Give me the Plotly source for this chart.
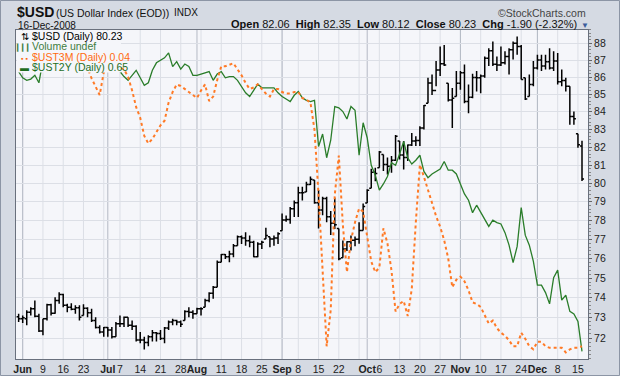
import pandas as pd
import plotly.graph_objects as go

# ---------------- data ----------------
HOLIDAYS = ["2008-07-04", "2008-09-01", "2008-11-27"]
trade_days = [d for d in pd.bdate_range("2008-05-30", "2008-12-16")
              if d.strftime("%Y-%m-%d") not in HOLIDAYS]
day_index = {d.strftime("%Y-%m-%d"): i for i, d in enumerate(trade_days)}
x_pos = list(range(len(trade_days)))

usd_open = [73.05, 72.95, 72.95, 73.28, 73.45, 73.08, 72.35, 72.95, 73.65, 73.23,
            73.87, 74.17, 73.62, 73.53, 73.42, 73.50, 73.12, 73.48, 73.25, 72.87,
            72.52, 72.30, 72.52, 72.39, 72.06, 72.71, 72.71, 73.03, 72.63, 72.58,
            71.91, 71.91, 71.78, 72.06, 72.26, 72.22, 71.98, 72.50, 72.79, 72.87,
            72.79, 72.87, 73.31, 73.28, 73.20, 73.45, 73.53, 73.87, 74.23, 74.53,
            75.81, 76.21, 76.10, 76.24, 76.67, 77.14, 77.07, 76.93, 76.85, 76.10,
            76.76, 77.02, 77.14, 77.02, 77.07, 77.46, 78.02, 78.05, 78.63, 78.95,
            79.48, 79.53, 79.94, 80.18, 78.95, 78.56, 79.17, 78.20, 77.85, 77.58,
            76.04, 76.50, 76.88, 76.96, 77.01, 77.47, 78.94, 79.73, 80.61, 80.85,
            81.59, 81.03, 80.94, 81.26, 82.33, 81.56, 81.41, 82.11, 82.33, 82.37,
            83.07, 84.48, 85.65, 85.22, 86.41, 86.78, 85.64, 84.67, 84.87, 85.64,
            86.25, 84.58, 84.82, 85.98, 85.96, 86.06, 87.11, 87.55, 86.75, 86.71,
            86.84, 87.21, 87.61, 88.00, 87.81, 85.96, 84.87, 85.56, 86.53, 87.00,
            86.65, 86.90, 86.53, 86.94, 85.72, 85.80, 85.46, 83.72, 82.74, 82.06]
usd_high = [73.20, 73.12, 73.37, 73.53, 73.87, 73.20, 72.95, 73.70, 73.70, 74.03,
            74.28, 74.20, 73.70, 73.73, 73.62, 73.62, 73.67, 73.53, 73.45, 73.03,
            72.63, 72.55, 72.55, 72.55, 72.79, 73.12, 73.07, 73.03, 72.87, 72.63,
            72.30, 72.06, 72.14, 72.39, 72.30, 72.39, 72.55, 72.87, 72.95, 72.90,
            72.87, 73.37, 73.53, 73.37, 73.50, 73.53, 73.95, 74.28, 74.60, 75.90,
            76.24, 76.24, 76.41, 76.76, 77.20, 77.20, 77.38, 77.20, 76.93, 76.85,
            76.93, 77.62, 77.14, 77.20, 77.38, 78.37, 78.27, 78.72, 79.07, 79.81,
            79.81, 80.09, 80.37, 80.18, 79.63, 79.27, 79.27, 78.50, 79.22, 77.58,
            76.94, 76.90, 77.20, 77.16, 77.91, 78.91, 79.68, 80.79, 80.85, 81.78,
            81.59, 81.41, 81.50, 82.67, 82.33, 82.33, 82.14, 82.79, 82.61, 83.17,
            84.38, 85.96, 86.15, 86.94, 87.81, 87.90, 85.64, 85.36, 86.35, 86.35,
            86.74, 85.56, 86.20, 86.35, 86.15, 87.21, 87.71, 88.10, 87.21, 87.81,
            87.52, 87.71, 88.10, 88.40, 87.90, 85.96, 86.15, 86.94, 87.32, 87.32,
            87.32, 87.71, 87.52, 87.42, 86.45, 85.96, 85.46, 84.00, 82.74, 82.35]
usd_low = [72.79, 72.74, 72.63, 73.12, 73.03, 72.30, 72.14, 72.87, 73.12, 73.20,
           73.70, 73.53, 73.28, 73.37, 73.20, 72.87, 73.12, 73.03, 72.79, 72.47,
           72.22, 72.06, 72.06, 71.98, 72.06, 72.55, 72.55, 72.55, 72.39, 71.83,
           71.75, 71.44, 71.60, 71.83, 71.83, 71.91, 71.75, 72.39, 72.63, 72.63,
           72.55, 72.87, 73.03, 72.95, 73.20, 73.12, 73.53, 73.78, 73.95, 74.53,
           75.81, 75.98, 75.81, 76.07, 76.67, 76.76, 76.67, 76.59, 76.07, 76.07,
           76.50, 77.02, 76.59, 76.67, 76.76, 77.46, 77.93, 77.82, 78.19, 78.19,
           79.07, 79.53, 79.91, 78.89, 77.57, 78.28, 77.91, 77.23, 77.55, 75.91,
           76.04, 76.40, 76.42, 76.64, 76.78, 77.47, 78.94, 79.73, 80.11, 80.85,
           80.67, 80.48, 80.57, 81.22, 81.31, 80.76, 81.22, 82.06, 82.06, 82.06,
           82.98, 84.48, 84.96, 85.46, 86.06, 86.65, 84.58, 83.07, 84.87, 85.26,
           84.48, 83.90, 84.77, 85.16, 85.06, 85.96, 86.65, 86.65, 86.35, 86.65,
           86.74, 86.15, 87.03, 87.32, 85.86, 84.67, 84.87, 85.46, 86.45, 86.35,
           86.45, 86.45, 86.35, 85.56, 85.46, 85.16, 83.25, 83.25, 81.96, 80.12]
usd_close = [72.95, 73.00, 73.28, 73.45, 73.08, 72.35, 72.95, 73.65, 73.23, 73.87,
             74.17, 73.62, 73.53, 73.42, 73.50, 73.03, 73.48, 73.25, 72.87, 72.52,
             72.30, 72.52, 72.39, 72.06, 72.71, 72.71, 73.03, 72.63, 72.58, 71.91,
             71.91, 71.78, 72.06, 72.26, 72.22, 71.98, 72.50, 72.79, 72.87, 72.79,
             72.68, 73.31, 73.28, 73.20, 73.45, 73.45, 73.87, 74.23, 74.53, 75.81,
             76.21, 76.10, 76.24, 76.67, 77.14, 77.07, 76.93, 76.85, 76.10, 76.76,
             76.85, 77.20, 77.02, 77.07, 77.30, 78.02, 78.05, 78.63, 78.95, 79.48,
             79.48, 79.94, 80.22, 78.95, 78.56, 79.17, 78.20, 77.85, 77.77, 75.99,
             76.50, 76.88, 76.96, 77.01, 77.47, 78.75, 79.62, 80.61, 80.53, 81.72,
             81.03, 80.94, 81.26, 82.61, 81.56, 81.41, 82.11, 82.33, 82.37, 83.07,
             84.35, 85.65, 85.22, 86.41, 86.78, 86.71, 84.67, 84.77, 85.64, 86.25,
             84.58, 84.82, 85.98, 85.96, 86.06, 87.11, 87.55, 86.75, 86.71, 86.84,
             87.21, 87.61, 88.00, 87.81, 85.86, 84.73, 85.56, 86.53, 87.00, 86.65,
             86.90, 86.53, 86.94, 85.72, 85.80, 85.46, 83.72, 83.59, 82.13, 80.23]

ust2y = [2.89, 2.84, 2.82, 2.83, 2.86, 2.80, 2.98, 3.02, 3.06, 3.08,
         3.12, 3.14, 3.16, 3.11, 3.08, 3.10, 3.06, 3.03, 3.00, 2.96,
         2.98, 2.96, 2.93, 2.95, 2.91, 2.89, 2.85, 2.82, 2.86, 2.90,
         2.84, 2.78, 2.80, 2.90, 2.96, 2.98, 3.00, 3.04, 2.93, 2.97,
         2.91, 2.95, 2.93, 2.86, 2.86, 2.87, 2.88, 2.89, 2.82, 2.87,
         2.89, 2.84, 2.85, 2.85, 2.82, 2.77, 2.72, 2.69, 2.74, 2.79,
         2.76, 2.76, 2.76, 2.76, 2.72, 2.69, 2.67, 2.65, 2.70, 2.73,
         2.68, 2.66, 2.65, 2.66, 2.29, 2.39, 2.20, 2.34, 2.61, 2.60,
         2.57, 2.51, 2.61, 2.58, 2.22, 2.48, 2.36, 2.14, 2.06, 1.94,
         1.99, 2.05, 2.16, 2.14, 2.23, 2.33, 2.20, 2.15, 2.18, 2.22,
         2.09, 2.04, 2.07, 2.09, 2.11, 2.17, 2.10, 2.10, 2.07, 1.99,
         1.91, 1.86, 1.76, 1.82, 1.76, 1.71, 1.65, 1.70, 1.68, 1.67,
         1.60, 1.50, 1.36, 1.49, 1.80, 1.58, 1.50, 1.37, 1.18, 1.18,
         1.12, 1.03, 1.24, 1.30, 1.06, 1.10, 0.97, 0.95, 0.89, 0.65]
ust3m = [1.96, 1.98, 2.00, 2.01, 2.02, 2.00, 1.98, 2.01, 2.03, 2.04,
         2.04, 2.02, 2.01, 2.00, 1.98, 1.96, 1.93, 1.88, 1.81, 1.76,
         1.70, 1.85, 1.92, 1.93, 1.89, 1.88, 1.87, 1.82, 1.73, 1.62,
         1.55, 1.43, 1.38, 1.41, 1.46, 1.50, 1.53, 1.65, 1.72, 1.77,
         1.76, 1.74, 1.72, 1.70, 1.68, 1.73, 1.77, 1.66, 1.69, 1.80,
         1.89, 1.89, 1.90, 1.91, 1.87, 1.83, 1.78, 1.74, 1.75, 1.77,
         1.74, 1.71, 1.69, 1.74, 1.74, 1.72, 1.71, 1.71, 1.72, 1.72,
         1.68, 1.67, 1.65, 1.47, 1.04, 0.54, 0.04, 0.28, 1.04, 1.30,
         0.84, 0.53, 0.74, 0.86, 0.95, 0.93, 0.77, 0.60, 0.53, 0.56,
         0.82, 0.72, 0.54, 0.27, 0.32, 0.34, 0.24, 0.42, 0.86, 1.24,
         1.16, 1.07, 0.99, 0.90, 0.83, 0.74, 0.62, 0.43, 0.48, 0.50,
         0.47, 0.41, 0.33, 0.32, 0.30, 0.25, 0.19, 0.21, 0.16, 0.13,
         0.11, 0.08, 0.04, 0.04, 0.13, 0.09, 0.04, 0.02, 0.07, 0.07,
         0.04, 0.03, 0.03, 0.03, 0.03, 0.00, 0.02, 0.03, 0.03, 0.04]

tick_dates = ["2008-06-02", "2008-06-09", "2008-06-16", "2008-06-23",
              "2008-07-01", "2008-07-07", "2008-07-14", "2008-07-21", "2008-07-28",
              "2008-08-01", "2008-08-11", "2008-08-18", "2008-08-25",
              "2008-09-02", "2008-09-08", "2008-09-15", "2008-09-22",
              "2008-10-01", "2008-10-06", "2008-10-13", "2008-10-20", "2008-10-27",
              "2008-11-03", "2008-11-10", "2008-11-17", "2008-11-24",
              "2008-12-01", "2008-12-08", "2008-12-15"]
tick_labels = ["<b>Jun</b>", "9", "16", "23",
               "<b>Jul</b>", "7", "14", "21", "28",
               "<b>Aug</b>", "11", "18", "25",
               "<b>Sep</b>", "8", "15", "22",
               "<b>Oct</b>", "6", "13", "20", "27",
               "<b>Nov</b>", "10", "17", "24",
               "<b>Dec</b>", "8", "15"]
price_ticks = [72, 73, 74, 75, 76, 77, 78, 79, 80, 81, 82, 83, 84, 85, 86, 87, 88]

# ---------------- layout helpers ----------------
W, H = 620, 376
L, R, T, B = 16, 32, 30, 17
PW, PH = W - L - R, H - T - B


def px_x(x):
    return (x - L) / PW


def px_y(y):
    return (H - B - y) / PH


FONT = "Liberation Sans, Arial, sans-serif"
PLOT_BG = "#f5f6fa"
NB = "\u00a0"

# gridline positions: first trading day of every week and every month
week_first, month_first = [], []
seen_w, seen_m = set(), set()
for i, d in enumerate(trade_days):
    wk = tuple(d.isocalendar()[:2])
    mo = (d.year, d.month)
    if wk not in seen_w:
        seen_w.add(wk)
        if i > 0:
            week_first.append(i)
    if mo not in seen_m:
        seen_m.add(mo)
        if i > 0:
            month_first.append(i)

shapes = []
for i in week_first:
    shapes.append(dict(type="line", xref="x", yref="paper", x0=i, x1=i, y0=0, y1=1,
                       line=dict(color="#dcdfe6", width=1), layer="below"))
for i in month_first:
    shapes.append(dict(type="line", xref="x", yref="paper", x0=i, x1=i, y0=0, y1=1,
                       line=dict(color="#b4b9c4", width=1), layer="below"))
# legend background box
shapes.append(dict(type="rect", xref="paper", yref="paper",
                   x0=px_x(17), x1=px_x(121), y0=px_y(72.5), y1=px_y(30.5),
                   fillcolor=PLOT_BG, line=dict(width=0), layer="above"))
# outer frame
shapes.append(dict(type="rect", xref="paper", yref="paper",
                   x0=px_x(0.5), x1=px_x(619.5), y0=px_y(375.5), y1=px_y(0.5),
                   fillcolor="rgba(0,0,0,0)", line=dict(color="#8c95a5", width=1),
                   layer="below"))

fig = go.Figure()
fig.add_trace(go.Ohlc(
    x=x_pos, open=usd_open, high=usd_high, low=usd_low, close=usd_close,
    increasing=dict(line=dict(color="#000000", width=1.5)),
    decreasing=dict(line=dict(color="#000000", width=1.5)),
    tickwidth=0.5, hoverinfo="skip", showlegend=False, yaxis="y"))
fig.add_trace(go.Scatter(
    x=x_pos, y=ust2y, mode="lines", line=dict(color="#2a7d2a", width=1.3),
    hoverinfo="skip", showlegend=False, yaxis="y2"))
fig.add_trace(go.Scatter(
    x=x_pos, y=ust3m, mode="lines", line=dict(color="#ff7a26", width=2.0, dash="dot"),
    hoverinfo="skip", showlegend=False, yaxis="y3"))

minor_vals = [round(71.0 + 0.2 * k, 2) for k in range(0, 90)]

gap = NB * 2
header2 = ("<b>Open</b> 82.06" + gap + "<b>High</b> 82.35" + gap + "<b>Low</b> 80.12" + gap
           + "<b>Close</b> 80.23" + gap + "<b>Chg</b> -1.90 (-2.32%)")

legend_rows = [("$USD (Daily) 80.23", "#000000"),
               ("Volume undef", "#3e7d3e"),
               ("$UST3M (Daily) 0.04", "#ff6a10"),
               ("$UST2Y (Daily) 0.65", "#1f6e1f")]
legend_icons = [("\u21c5", "#000000", 10),
                ("\u258e\u258e\u258e", "#3e7d3e", 7),
                ("\u25aa \u25aa", "#ff6a10", 7),
                ("\u25ac", "#1f6e1f", 9)]
legend_text = "<br>".join(
    f"<span style='font-size:10.5px;fill:{c}'>{t}</span>" for t, c in legend_rows)
icon_text = "<br>".join(
    f"<span style='font-size:{s}px;fill:{c}'>{t}</span>" for t, c, s in legend_icons)

annotations = [
    dict(text="<b>$USD</b>", x=px_x(15), y=px_y(12), font=dict(size=14, color="#111")),
    dict(text="(US Dollar Index (EOD))", x=px_x(54), y=px_y(13), font=dict(size=10.5, color="#111")),
    dict(text="INDX", x=px_x(172), y=px_y(13), font=dict(size=10, color="#111")),
    dict(text="16-Dec-2008", x=px_x(16), y=px_y(25), font=dict(size=10, color="#111")),
    dict(text="\u00a9StockCharts.com", x=px_x(588), y=px_y(12.5), xanchor="right",
         font=dict(size=10.5, color="#444")),
    dict(text=header2, x=px_x(579), y=px_y(24.5), xanchor="right",
         font=dict(size=11, color="#111")),
    dict(text="\u25bc", x=px_x(585), y=px_y(25), xanchor="center",
         font=dict(size=8, color="#3b5c9c")),
    # legend block
    dict(text=icon_text, x=px_x(23.5), y=px_y(51.5), xanchor="center", align="center",
         font=dict(size=8, color="#000")),
    dict(text=legend_text, x=px_x(29.5), y=px_y(51.5), align="left",
         font=dict(size=8, color="#000")),
]
for a in annotations:
    a.setdefault("xref", "paper")
    a.setdefault("yref", "paper")
    a.setdefault("xanchor", "left")
    a.setdefault("yanchor", "middle")
    a.setdefault("showarrow", False)
    a["font"]["family"] = FONT

fig.update_layout(
    width=W, height=H, margin=dict(l=L, r=R, t=T, b=B, pad=0, autoexpand=False),
    paper_bgcolor="#d5dae3", plot_bgcolor=PLOT_BG, showlegend=False,
    font=dict(family=FONT, size=10, color="#222"),
    xaxis=dict(range=[-0.65, 140.48], tickmode="array", automargin=False,
               tickvals=[day_index[d] for d in tick_dates], ticktext=tick_labels,
               tickangle=0, showgrid=False, zeroline=False, showline=True, mirror=True,
               linecolor="#69707d", linewidth=1, ticks="",
               rangeslider=dict(visible=False), tickfont=dict(size=10.5, color="#222"),
               fixedrange=True),
    yaxis=dict(type="log", range=[1.85114, 1.94841], side="right", automargin=False,
               tickmode="array", tickvals=price_ticks, ticktext=[str(v) for v in price_ticks],
               showgrid=True, gridcolor="#dcdfe6", gridwidth=1, zeroline=False,
               showline=True, mirror=True, linecolor="#69707d", linewidth=1,
               ticks="outside", ticklen=3, tickcolor="#666",
               minor=dict(tickvals=minor_vals, ticks="outside", ticklen=2,
                          tickcolor="#888", showgrid=False),
               tickfont=dict(size=10.5, color="#222"), fixedrange=True),
    yaxis2=dict(overlaying="y", range=[0.5884, 3.2228], visible=False, fixedrange=True,
                automargin=False),
    yaxis3=dict(overlaying="y", range=[-0.0438, 2.1296], visible=False, fixedrange=True,
                automargin=False),
    shapes=shapes, annotations=annotations,
)

fig.write_html("out.html", config={"displayModeBar": False},
               post_script="document.body.style.margin='0';")
